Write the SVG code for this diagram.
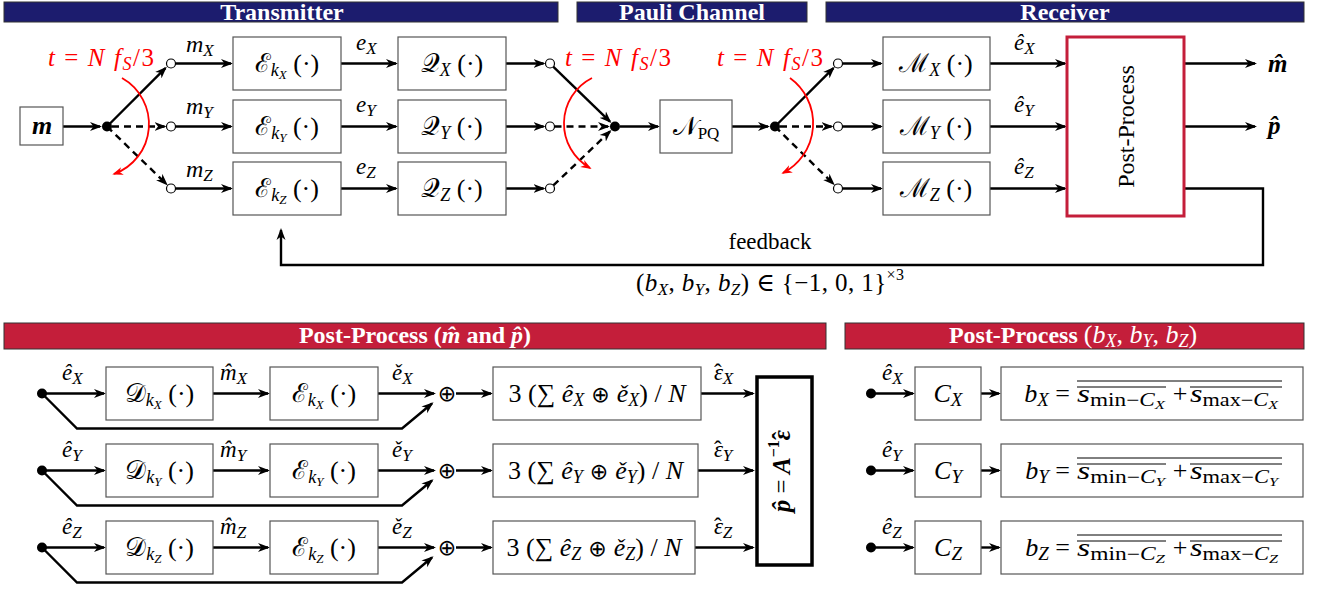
<svg xmlns="http://www.w3.org/2000/svg" width="1317" height="589" viewBox="0 0 1317 589">
<defs>
<style>
.t{font-family:"Liberation Serif","DejaVu Serif",serif;fill:#000}
.i{font-style:italic}
.n{font-style:normal}
.bx{font-size:26px;text-anchor:middle}
.lb{font-size:23px}
.red{fill:#ff0000}
.op{font-family:"DejaVu Sans",sans-serif;font-style:normal;font-weight:normal}
.hb{fill:#1c1c6e;stroke:#333;stroke-width:1}
.hr{fill:#c41e3a;stroke:#333;stroke-width:1}
.ht{font-family:"Liberation Serif","DejaVu Serif",serif;font-weight:bold;font-size:24px;fill:#fff;text-anchor:middle}
.box{fill:#fff;stroke:#555;stroke-width:1.2}
.ln{stroke:#000;stroke-width:2.4;fill:none}
.ar{marker-end:url(#ah)}
.da{stroke-dasharray:7 5}
.rl{stroke:#ff0000;stroke-width:1.8;fill:none;marker-end:url(#ahr)}
.dot{fill:#000}
.oc{fill:#fff;stroke:#000;stroke-width:1.2}
.ov{stroke:#000;stroke-width:1}
</style>
<marker id="ah" viewBox="0 0 12 10" refX="10" refY="5" markerWidth="12" markerHeight="10" orient="auto" markerUnits="userSpaceOnUse"><path d="M0,0.5 L12,5 L0,9.5 L3.5,5 Z" fill="#000"/></marker>
<marker id="ahr" viewBox="0 0 12 10" refX="10" refY="5" markerWidth="11" markerHeight="9" orient="auto" markerUnits="userSpaceOnUse"><path d="M0,0.5 L12,5 L0,9.5 L3.5,5 Z" fill="#ff0000"/></marker>
</defs>

<!-- headers -->
<g id="hdr-transmitter"><rect class="hb" x="4" y="2" width="554" height="20"/><text class="ht" x="282" y="20">Transmitter</text></g>
<g id="hdr-pauli"><rect class="hb" x="577" y="2" width="230" height="20"/><text class="ht" x="692" y="20">Pauli Channel</text></g>
<g id="hdr-receiver"><rect class="hb" x="826" y="2" width="478" height="20"/><text class="ht" x="1065" y="20">Receiver</text></g>
<g id="hdr-pp-mp"><rect class="hr" x="4" y="323" width="822" height="26"/><text class="ht" x="415" y="343" font-size="25">Post-Process (<tspan font-style="italic">m̂</tspan> and <tspan font-style="italic">p̂</tspan>)</text></g>
<g id="hdr-pp-b"><rect class="hr" x="845" y="323" width="459" height="26"/><text class="ht" x="1073" y="343" font-size="25">Post-Process <tspan font-weight="normal" font-size="26">(<tspan font-style="italic">b</tspan><tspan font-style="italic" font-size="18" dy="4">X</tspan><tspan dy="-4">, </tspan><tspan font-style="italic">b</tspan><tspan font-style="italic" font-size="18" dy="4">Y</tspan><tspan dy="-4">, </tspan><tspan font-style="italic">b</tspan><tspan font-style="italic" font-size="18" dy="4">Z</tspan><tspan dy="-4">)</tspan></tspan></text></g>

<!-- connectors -->
<g id="connectors">
<line class="ln ar" x1="63" y1="126.5" x2="100" y2="126.5"/>
<line class="ln ar" x1="107" y1="126.5" x2="165.4" y2="68.1"/>
<line class="ln ar da" x1="112" y1="126.5" x2="164.5" y2="126.5"/>
<line class="ln ar da" x1="107" y1="126.5" x2="166.4" y2="184"/>
<line class="ln ar" x1="175.5" y1="63.5" x2="231" y2="63.5"/>
<line class="ln ar" x1="175.5" y1="126.5" x2="231" y2="126.5"/>
<line class="ln ar" x1="175.5" y1="188.5" x2="231" y2="188.5"/>
<line class="ln ar" x1="341" y1="63.5" x2="396" y2="63.5"/>
<line class="ln ar" x1="341" y1="126.5" x2="396" y2="126.5"/>
<line class="ln ar" x1="341" y1="188.5" x2="396" y2="188.5"/>
<line class="ln ar" x1="506" y1="63.5" x2="543.5" y2="63.5"/>
<line class="ln ar" x1="506" y1="126.5" x2="543.5" y2="126.5"/>
<line class="ln ar" x1="506" y1="188.5" x2="543.5" y2="188.5"/>
<line class="ln ar" x1="553.2" y1="66.6" x2="610" y2="121.6"/>
<line class="ln ar da" x1="554.5" y1="126.5" x2="608" y2="126.5"/>
<line class="ln ar da" x1="553.3" y1="185.4" x2="610" y2="131.4"/>
<line class="ln ar" x1="620" y1="126.5" x2="658" y2="126.5"/>
<line class="ln ar" x1="732" y1="126.5" x2="768" y2="126.5"/>
<line class="ln ar" x1="775" y1="126.5" x2="833.4" y2="68.1"/>
<line class="ln ar da" x1="780" y1="126.5" x2="831.5" y2="126.5"/>
<line class="ln ar da" x1="775" y1="126.5" x2="833.4" y2="183.9"/>
<line class="ln ar" x1="842.5" y1="63.5" x2="881" y2="63.5"/>
<line class="ln ar" x1="842.5" y1="126.5" x2="881" y2="126.5"/>
<line class="ln ar" x1="842.5" y1="188.5" x2="881" y2="188.5"/>
<line class="ln ar" x1="990" y1="63.5" x2="1065" y2="63.5"/>
<line class="ln ar" x1="990" y1="126.5" x2="1065" y2="126.5"/>
<line class="ln ar" x1="990" y1="188.5" x2="1065" y2="188.5"/>
<line class="ln ar" x1="1184" y1="63.5" x2="1255" y2="63.5"/>
<line class="ln ar" x1="1184" y1="126.5" x2="1255" y2="126.5"/>
<polyline class="ln ar" points="1184,188.5 1263,188.5 1263,265 281,265 281,230"/>
<path class="rl" d="M122,78 A53,53 0 0 1 114,174"/>
<path class="rl" d="M592,78 A51,51 0 0 0 590,168"/>
<path class="rl" d="M790,78 A56,56 0 0 1 783,173"/>

<line class="ln ar" x1="42" y1="393.5" x2="104" y2="393.5"/>
<line class="ln ar" x1="213" y1="393.5" x2="268" y2="393.5"/>
<line class="ln ar" x1="378" y1="393.5" x2="434" y2="393.5"/>
<polyline class="ln ar" points="42,393.5 77,428.5 402,428.5 432,403.5"/>
<line class="ln ar" x1="456" y1="393.5" x2="491" y2="393.5"/>
<line class="ln ar" x1="701" y1="393.5" x2="753" y2="393.5"/>

<line class="ln ar" x1="42" y1="470.5" x2="104" y2="470.5"/>
<line class="ln ar" x1="213" y1="470.5" x2="268" y2="470.5"/>
<line class="ln ar" x1="378" y1="470.5" x2="434" y2="470.5"/>
<polyline class="ln ar" points="42,470.5 77,505.5 402,505.5 432,480.5"/>
<line class="ln ar" x1="456" y1="470.5" x2="491" y2="470.5"/>
<line class="ln ar" x1="698" y1="470.5" x2="753" y2="470.5"/>

<line class="ln ar" x1="42" y1="547.5" x2="104" y2="547.5"/>
<line class="ln ar" x1="213" y1="547.5" x2="268" y2="547.5"/>
<line class="ln ar" x1="378" y1="547.5" x2="434" y2="547.5"/>
<polyline class="ln ar" points="42,547.5 77,582.5 402,582.5 432,557.5"/>
<line class="ln ar" x1="456" y1="547.5" x2="491" y2="547.5"/>
<line class="ln ar" x1="695" y1="547.5" x2="753" y2="547.5"/>

<line class="ln ar" x1="871" y1="393.5" x2="913" y2="393.5"/>
<line class="ln ar" x1="981" y1="393.5" x2="999" y2="393.5"/>
<line class="ln ar" x1="871" y1="470.5" x2="913" y2="470.5"/>
<line class="ln ar" x1="981" y1="470.5" x2="999" y2="470.5"/>
<line class="ln ar" x1="871" y1="547.5" x2="913" y2="547.5"/>
<line class="ln ar" x1="981" y1="547.5" x2="999" y2="547.5"/>
</g>

<!-- top: switch points -->
<g id="sw1"><circle class="dot" cx="107" cy="126.5" r="5"/><circle class="oc" cx="171" cy="63.5" r="4.5"/><circle class="oc" cx="171" cy="126.5" r="4.5"/><circle class="oc" cx="171" cy="188.5" r="4.5"/></g>
<g id="sw2"><circle class="oc" cx="550" cy="63.5" r="4.5"/><circle class="oc" cx="550" cy="126.5" r="4.5"/><circle class="oc" cx="550" cy="188.5" r="4.5"/><circle class="dot" cx="615" cy="126.5" r="5"/></g>
<g id="sw3"><circle class="dot" cx="775" cy="126.5" r="5"/><circle class="oc" cx="838" cy="63.5" r="4.5"/><circle class="oc" cx="838" cy="126.5" r="4.5"/><circle class="oc" cx="838" cy="188.5" r="4.5"/></g>

<g id="node-m"><rect class="box" x="20" y="107" width="43" height="38"/><text class="t" x="42" y="134" font-size="26" font-weight="bold" font-style="italic" text-anchor="middle">m</text></g>

<g id="enc-x"><rect class="box" x="233" y="37" width="108" height="53"/><text class="t bx" x="287" y="72">ℰ<tspan class="i" font-size="18" dy="4">k</tspan><tspan class="i" font-size="13" dy="3">X</tspan><tspan dy="-7"> (·)</tspan></text></g>
<g id="enc-y"><rect class="box" x="233" y="100" width="108" height="53"/><text class="t bx" x="287" y="135">ℰ<tspan class="i" font-size="18" dy="4">k</tspan><tspan class="i" font-size="13" dy="3">Y</tspan><tspan dy="-7"> (·)</tspan></text></g>
<g id="enc-z"><rect class="box" x="233" y="162" width="108" height="53"/><text class="t bx" x="287" y="197">ℰ<tspan class="i" font-size="18" dy="4">k</tspan><tspan class="i" font-size="13" dy="3">Z</tspan><tspan dy="-7"> (·)</tspan></text></g>

<g id="q-x"><rect class="box" x="398" y="37" width="108" height="53"/><text class="t bx" x="452" y="72">𝒬<tspan class="i" font-size="18" dy="4">X</tspan><tspan dy="-4"> (·)</tspan></text></g>
<g id="q-y"><rect class="box" x="398" y="100" width="108" height="53"/><text class="t bx" x="452" y="135">𝒬<tspan class="i" font-size="18" dy="4">Y</tspan><tspan dy="-4"> (·)</tspan></text></g>
<g id="q-z"><rect class="box" x="398" y="162" width="108" height="53"/><text class="t bx" x="452" y="197">𝒬<tspan class="i" font-size="18" dy="4">Z</tspan><tspan dy="-4"> (·)</tspan></text></g>

<g id="npq"><rect class="box" x="660" y="100" width="72" height="53"/><text class="t bx" x="696" y="135">𝒩<tspan font-size="17" dy="4">PQ</tspan></text></g>

<g id="m-x"><rect class="box" x="883" y="37" width="107" height="53"/><text class="t bx" x="936" y="72">ℳ<tspan class="i" font-size="18" dy="4">X</tspan><tspan dy="-4"> (·)</tspan></text></g>
<g id="m-y"><rect class="box" x="883" y="100" width="107" height="53"/><text class="t bx" x="936" y="135">ℳ<tspan class="i" font-size="18" dy="4">Y</tspan><tspan dy="-4"> (·)</tspan></text></g>
<g id="m-z"><rect class="box" x="883" y="162" width="107" height="53"/><text class="t bx" x="936" y="197">ℳ<tspan class="i" font-size="18" dy="4">Z</tspan><tspan dy="-4"> (·)</tspan></text></g>

<g id="post-process"><rect x="1067" y="37" width="117" height="179" fill="#fff" stroke="#c41e3a" stroke-width="3"/><text class="t" font-size="24" text-anchor="middle" transform="translate(1134,126.5) rotate(-90)">Post-Process</text></g>

<!-- top labels -->
<g id="labels-top">
<text class="t lb" x="186" y="52"><tspan class="i" font-size="24">m</tspan><tspan class="i" font-size="17" dy="4">X</tspan></text>
<text class="t lb" x="186" y="114"><tspan class="i" font-size="24">m</tspan><tspan class="i" font-size="17" dy="4">Y</tspan></text>
<text class="t lb" x="186" y="177"><tspan class="i" font-size="24">m</tspan><tspan class="i" font-size="17" dy="4">Z</tspan></text>
<text class="t lb" x="356" y="50"><tspan class="i">e</tspan><tspan class="i" font-size="17" dy="4">X</tspan></text>
<text class="t lb" x="356" y="112"><tspan class="i">e</tspan><tspan class="i" font-size="17" dy="4">Y</tspan></text>
<text class="t lb" x="356" y="174"><tspan class="i">e</tspan><tspan class="i" font-size="17" dy="4">Z</tspan></text>
<text class="t lb" x="1014" y="50"><tspan class="i">ê</tspan><tspan class="i" font-size="17" dy="4">X</tspan></text>
<text class="t lb" x="1014" y="112"><tspan class="i">ê</tspan><tspan class="i" font-size="17" dy="4">Y</tspan></text>
<text class="t lb" x="1014" y="174"><tspan class="i">ê</tspan><tspan class="i" font-size="17" dy="4">Z</tspan></text>
<text class="t" x="1268" y="72" font-size="25" font-weight="bold" font-style="italic">m̂</text>
<text class="t" x="1268" y="134" font-size="25" font-weight="bold" font-style="italic">p̂</text>
<text class="t red" x="101" y="66" font-size="25" text-anchor="middle" textLength="106" lengthAdjust="spacing"><tspan class="i">t</tspan> = <tspan class="i">N f</tspan><tspan class="i" font-size="18" dy="4">S</tspan><tspan dy="-4">/3</tspan></text>
<text class="t red" x="618" y="66" font-size="25" text-anchor="middle" textLength="106" lengthAdjust="spacing"><tspan class="i">t</tspan> = <tspan class="i">N f</tspan><tspan class="i" font-size="18" dy="4">S</tspan><tspan dy="-4">/3</tspan></text>
<text class="t red" x="770" y="66" font-size="25" text-anchor="middle" textLength="106" lengthAdjust="spacing"><tspan class="i">t</tspan> = <tspan class="i">N f</tspan><tspan class="i" font-size="18" dy="4">S</tspan><tspan dy="-4">/3</tspan></text>
<text class="t" x="770" y="249" font-size="23" text-anchor="middle">feedback</text>
<text class="t" x="770" y="291" font-size="25" text-anchor="middle" textLength="268" lengthAdjust="spacing">(<tspan class="i">b</tspan><tspan class="i" font-size="17" dy="4">X</tspan><tspan dy="-4">, </tspan><tspan class="i">b</tspan><tspan class="i" font-size="17" dy="4">Y</tspan><tspan dy="-4">, </tspan><tspan class="i">b</tspan><tspan class="i" font-size="17" dy="4">Z</tspan><tspan dy="-4">) ∈ {−1, 0, 1}</tspan><tspan font-size="16" dy="-11">×3</tspan></text>
</g>

<!-- bottom left -->
<g id="pp-row-x">
<circle class="dot" cx="42" cy="393.5" r="5"/>
<rect class="box" x="106" y="367" width="107" height="53"/><text class="t bx" x="159.5" y="402">𝒟<tspan class="i" font-size="18" dy="4">k</tspan><tspan class="i" font-size="13" dy="3">X</tspan><tspan dy="-7"> (·)</tspan></text>
<rect class="box" x="270" y="367" width="108" height="53"/><text class="t bx" x="324" y="402">ℰ<tspan class="i" font-size="18" dy="4">k</tspan><tspan class="i" font-size="13" dy="3">X</tspan><tspan dy="-7"> (·)</tspan></text>
<text class="t op" x="447" y="401" font-size="22" text-anchor="middle">⊕</text>
<rect class="box" x="493" y="367" width="208" height="53"/><text class="t bx" x="597" y="402">3 (∑ <tspan class="i">ê</tspan><tspan class="i" font-size="18" dy="4">X</tspan><tspan dy="-4" class="op" font-size="22"> ⊕ </tspan><tspan class="i">ě</tspan><tspan class="i" font-size="18" dy="4">X</tspan><tspan dy="-4">) / </tspan><tspan class="i">N</tspan></text>
<text class="t lb" x="62" y="380"><tspan class="i">ê</tspan><tspan class="i" font-size="17" dy="4">X</tspan></text>
<text class="t lb" x="220" y="380"><tspan class="i">m̂</tspan><tspan class="i" font-size="17" dy="4">X</tspan></text>
<text class="t lb" x="392" y="380"><tspan class="i">ě</tspan><tspan class="i" font-size="17" dy="4">X</tspan></text>
<text class="t lb" x="714" y="380"><tspan class="i">ε</tspan><tspan class="n" dx="-9">ˆ</tspan><tspan class="i" font-size="17" dx="1" dy="4">X</tspan></text>
</g>
<g id="pp-row-y">
<circle class="dot" cx="42" cy="470.5" r="5"/>
<rect class="box" x="106" y="444" width="107" height="53"/><text class="t bx" x="159.5" y="479">𝒟<tspan class="i" font-size="18" dy="4">k</tspan><tspan class="i" font-size="13" dy="3">Y</tspan><tspan dy="-7"> (·)</tspan></text>
<rect class="box" x="270" y="444" width="108" height="53"/><text class="t bx" x="324" y="479">ℰ<tspan class="i" font-size="18" dy="4">k</tspan><tspan class="i" font-size="13" dy="3">Y</tspan><tspan dy="-7"> (·)</tspan></text>
<text class="t op" x="447" y="478" font-size="22" text-anchor="middle">⊕</text>
<rect class="box" x="493" y="444" width="205" height="53"/><text class="t bx" x="595.5" y="479">3 (∑ <tspan class="i">ê</tspan><tspan class="i" font-size="18" dy="4">Y</tspan><tspan dy="-4" class="op" font-size="22"> ⊕ </tspan><tspan class="i">ě</tspan><tspan class="i" font-size="18" dy="4">Y</tspan><tspan dy="-4">) / </tspan><tspan class="i">N</tspan></text>
<text class="t lb" x="62" y="457"><tspan class="i">ê</tspan><tspan class="i" font-size="17" dy="4">Y</tspan></text>
<text class="t lb" x="220" y="457"><tspan class="i">m̂</tspan><tspan class="i" font-size="17" dy="4">Y</tspan></text>
<text class="t lb" x="392" y="457"><tspan class="i">ě</tspan><tspan class="i" font-size="17" dy="4">Y</tspan></text>
<text class="t lb" x="714" y="457"><tspan class="i">ε</tspan><tspan class="n" dx="-9">ˆ</tspan><tspan class="i" font-size="17" dx="1" dy="4">Y</tspan></text>
</g>
<g id="pp-row-z">
<circle class="dot" cx="42" cy="547.5" r="5"/>
<rect class="box" x="106" y="521" width="107" height="53"/><text class="t bx" x="159.5" y="556">𝒟<tspan class="i" font-size="18" dy="4">k</tspan><tspan class="i" font-size="13" dy="3">Z</tspan><tspan dy="-7"> (·)</tspan></text>
<rect class="box" x="270" y="521" width="108" height="53"/><text class="t bx" x="324" y="556">ℰ<tspan class="i" font-size="18" dy="4">k</tspan><tspan class="i" font-size="13" dy="3">Z</tspan><tspan dy="-7"> (·)</tspan></text>
<text class="t op" x="447" y="555" font-size="22" text-anchor="middle">⊕</text>
<rect class="box" x="493" y="521" width="202" height="53"/><text class="t bx" x="594" y="556">3 (∑ <tspan class="i">ê</tspan><tspan class="i" font-size="18" dy="4">Z</tspan><tspan dy="-4" class="op" font-size="22"> ⊕ </tspan><tspan class="i">ě</tspan><tspan class="i" font-size="18" dy="4">Z</tspan><tspan dy="-4">) / </tspan><tspan class="i">N</tspan></text>
<text class="t lb" x="62" y="534"><tspan class="i">ê</tspan><tspan class="i" font-size="17" dy="4">Z</tspan></text>
<text class="t lb" x="220" y="534"><tspan class="i">m̂</tspan><tspan class="i" font-size="17" dy="4">Z</tspan></text>
<text class="t lb" x="392" y="534"><tspan class="i">ě</tspan><tspan class="i" font-size="17" dy="4">Z</tspan></text>
<text class="t lb" x="714" y="534"><tspan class="i">ε</tspan><tspan class="n" dx="-9">ˆ</tspan><tspan class="i" font-size="17" dx="1" dy="4">Z</tspan></text>
</g>
<g id="p-hat"><rect x="757" y="377" width="55" height="188" fill="#fff" stroke="#000" stroke-width="3.5"/><text class="t" font-size="25" font-weight="bold" font-style="italic" text-anchor="middle" transform="translate(790,471) rotate(-90)">p̂ <tspan font-weight="normal" font-style="normal">=</tspan> A<tspan font-size="16" font-style="normal" dy="-11">−1</tspan><tspan dy="11">ε</tspan><tspan font-style="normal" dx="-10">ˆ</tspan></text></g>

<!-- bottom right -->
<g id="b-row-x">
<circle class="dot" cx="871" cy="393.5" r="5"/>
<text class="t lb" x="882" y="380"><tspan class="i">ê</tspan><tspan class="i" font-size="17" dy="4">X</tspan></text>
<rect class="box" x="915" y="367" width="66" height="53"/><text class="t bx" x="948" y="402" font-size="27"><tspan class="i">C</tspan><tspan class="i" font-size="19" dy="4">X</tspan></text>
<rect class="box" x="1001" y="367" width="302" height="53"/>
<text class="t" font-size="26" x="1070" y="402" text-anchor="end"><tspan class="i">b</tspan><tspan class="i" font-size="19" dy="4">X</tspan><tspan dy="-4"> =</tspan></text>
<text class="t" font-size="26" x="1077" y="402" textLength="88" lengthAdjust="spacingAndGlyphs"><tspan class="i">s</tspan><tspan font-size="18" dy="4">min−</tspan><tspan class="i" font-size="18">C</tspan><tspan class="i" font-size="13" dy="3">X</tspan></text>
<text class="t" font-size="26" x="1180" y="402" text-anchor="middle">+</text>
<text class="t" font-size="26" x="1190" y="402" textLength="88" lengthAdjust="spacingAndGlyphs"><tspan class="i">s</tspan><tspan font-size="18" dy="4">max−</tspan><tspan class="i" font-size="18">C</tspan><tspan class="i" font-size="13" dy="3">X</tspan></text>
<line class="ov" x1="1077" y1="381" x2="1282" y2="381"/><line class="ov" x1="1077" y1="387" x2="1166" y2="387"/><line class="ov" x1="1190" y1="387" x2="1282" y2="387"/>
</g>
<g id="b-row-y">
<circle class="dot" cx="871" cy="470.5" r="5"/>
<text class="t lb" x="882" y="457"><tspan class="i">ê</tspan><tspan class="i" font-size="17" dy="4">Y</tspan></text>
<rect class="box" x="915" y="444" width="66" height="53"/><text class="t bx" x="948" y="479" font-size="27"><tspan class="i">C</tspan><tspan class="i" font-size="19" dy="4">Y</tspan></text>
<rect class="box" x="1001" y="444" width="302" height="53"/>
<text class="t" font-size="26" x="1070" y="479" text-anchor="end"><tspan class="i">b</tspan><tspan class="i" font-size="19" dy="4">Y</tspan><tspan dy="-4"> =</tspan></text>
<text class="t" font-size="26" x="1077" y="479" textLength="88" lengthAdjust="spacingAndGlyphs"><tspan class="i">s</tspan><tspan font-size="18" dy="4">min−</tspan><tspan class="i" font-size="18">C</tspan><tspan class="i" font-size="13" dy="3">Y</tspan></text>
<text class="t" font-size="26" x="1180" y="479" text-anchor="middle">+</text>
<text class="t" font-size="26" x="1190" y="479" textLength="88" lengthAdjust="spacingAndGlyphs"><tspan class="i">s</tspan><tspan font-size="18" dy="4">max−</tspan><tspan class="i" font-size="18">C</tspan><tspan class="i" font-size="13" dy="3">Y</tspan></text>
<line class="ov" x1="1077" y1="458" x2="1282" y2="458"/><line class="ov" x1="1077" y1="464" x2="1166" y2="464"/><line class="ov" x1="1190" y1="464" x2="1282" y2="464"/>
</g>
<g id="b-row-z">
<circle class="dot" cx="871" cy="547.5" r="5"/>
<text class="t lb" x="882" y="534"><tspan class="i">ê</tspan><tspan class="i" font-size="17" dy="4">Z</tspan></text>
<rect class="box" x="915" y="521" width="66" height="53"/><text class="t bx" x="948" y="556" font-size="27"><tspan class="i">C</tspan><tspan class="i" font-size="19" dy="4">Z</tspan></text>
<rect class="box" x="1001" y="521" width="302" height="53"/>
<text class="t" font-size="26" x="1070" y="556" text-anchor="end"><tspan class="i">b</tspan><tspan class="i" font-size="19" dy="4">Z</tspan><tspan dy="-4"> =</tspan></text>
<text class="t" font-size="26" x="1077" y="556" textLength="88" lengthAdjust="spacingAndGlyphs"><tspan class="i">s</tspan><tspan font-size="18" dy="4">min−</tspan><tspan class="i" font-size="18">C</tspan><tspan class="i" font-size="13" dy="3">Z</tspan></text>
<text class="t" font-size="26" x="1180" y="556" text-anchor="middle">+</text>
<text class="t" font-size="26" x="1190" y="556" textLength="88" lengthAdjust="spacingAndGlyphs"><tspan class="i">s</tspan><tspan font-size="18" dy="4">max−</tspan><tspan class="i" font-size="18">C</tspan><tspan class="i" font-size="13" dy="3">Z</tspan></text>
<line class="ov" x1="1077" y1="535" x2="1282" y2="535"/><line class="ov" x1="1077" y1="541" x2="1166" y2="541"/><line class="ov" x1="1190" y1="541" x2="1282" y2="541"/>
</g>
</svg>
